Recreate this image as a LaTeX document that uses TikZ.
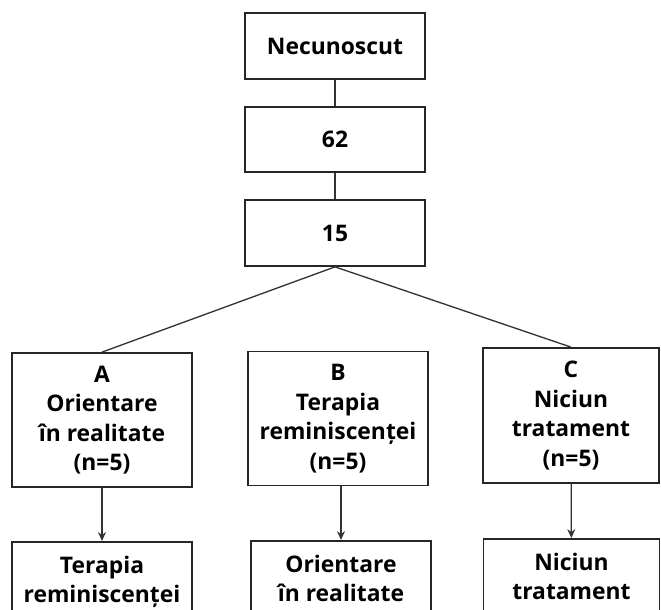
\documentclass[tikz,border=0pt]{standalone}
\usepackage{fontspec}
\setmainfont{Open Sans}
\usetikzlibrary{arrows.meta,positioning}

\begin{document}
\begin{tikzpicture}[>={Stealth[length=5pt,width=4.5pt]},font=\bfseries\fontsize{13}{16.8}\selectfont]
\tikzstyle{box}=[draw=black!85,line width=1pt,align=center,minimum width=3.6cm,inner sep=2pt]
\tikzstyle{grp}=[box,minimum height=2.68cm]
\tikzstyle{res}=[box,anchor=north,inner ysep=8pt,text depth=1.4cm]
\tikzstyle{ln}=[draw=black!80,line width=0.75pt]
\useasboundingbox (0,0) rectangle (13.22,12.18);
\clip (0,0) rectangle (13.22,12.18);
% top chain
\node[box,minimum height=1.32cm] (nec) at (6.70,11.26) {Necunoscut};
\node[box,minimum height=1.30cm] (n62) at (6.70,9.39) {62};
\node[box,minimum height=1.32cm] (n15) at (6.70,7.52) {15};
\draw[ln] (nec) -- (n62); \draw[ln] (n62) -- (n15);
% groups
\node[grp] (ga) at (2.04,3.78) {A\\Orientare\\în realitate\\(n=5)};
\node[grp] (gb) at (6.76,3.81) {B\\Terapia\\reminiscenței\\(n=5)};
\node[grp,minimum width=3.52cm,minimum height=2.70cm] (gc) at (11.42,3.87) {C\\Niciun\\tratament\\(n=5)};
\draw[ln] (n15.south) -- (ga.north); \draw[ln] (n15.south) -- (gc.north);
% second treatment
\node[res] (ra) at (2.04,1.36) {Terapia\\reminiscenței};
\node[res] (rb) at (6.82,1.38) {Orientare\\în realitate};
\node[res,minimum width=3.52cm] (rc) at (11.43,1.42) {Niciun\\tratament};
\draw[ln,->] (ga) -- (ra); \draw[ln,->] (gb.south -| rb.north) -- (rb); \draw[ln,->] (gc) -- (rc);
\end{tikzpicture}
\end{document}
